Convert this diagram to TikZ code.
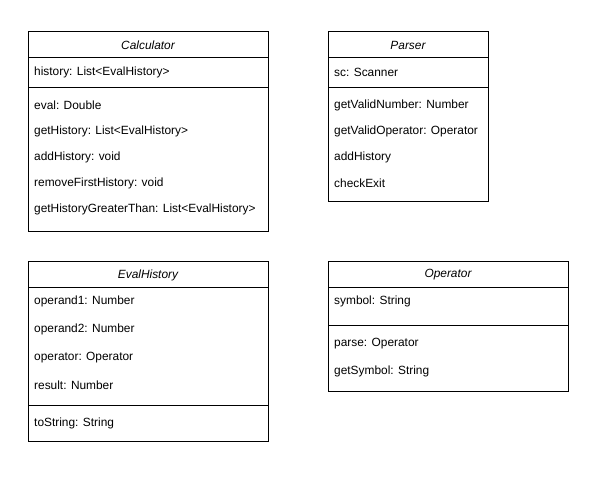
\documentclass[tikz,border=0pt]{standalone}
\usepackage{fontspec}
\setmainfont{Liberation Sans}
\begin{document}
\begin{tikzpicture}[x=1pt,y=-1pt,
  classbox/.style={draw=black,line width=0.8pt,anchor=north west,inner sep=0pt},
  title/.style={font=\fontsize{11.9}{14}\selectfont\itshape,inner sep=0pt},
  member/.style={font=\fontsize{11.9}{14}\selectfont,anchor=west,inner sep=0pt},
  divider/.style={line width=0.8pt}]
\useasboundingbox[fill=white] (0,0) rectangle (611,502);

% Calculator
\node[classbox,minimum width=240pt,minimum height=200pt] (calc) at (28,31) {};
\node[title] (calct) at (148,45) {Calculator};
\draw[divider] ([yshift=-26pt]calc.north west) -- ([yshift=-26pt]calc.north east);
\draw[divider] ([yshift=-56pt]calc.north west) -- ([yshift=-56pt]calc.north east);
\node[member] (c1) at (34,72) {history: List<EvalHistory>};
\node[member] (c2) at (34,105.5) {eval: Double};
\node[member] (c3) at (34,131.5) {getHistory: List<EvalHistory>};
\node[member] (c4) at (34,157.5) {addHistory: void};
\node[member] (c5) at (34,183.5) {removeFirstHistory: void};
\node[member] (c6) at (34,209.5) {getHistoryGreaterThan: List<EvalHistory>};

% Parser
\node[classbox,minimum width=160pt,minimum height=170pt] (pars) at (328,31) {};
\node[title] (parst) at (408,45) {Parser};
\draw[divider] ([yshift=-26pt]pars.north west) -- ([yshift=-26pt]pars.north east);
\draw[divider] ([yshift=-56pt]pars.north west) -- ([yshift=-56pt]pars.north east);
\node[member] (p1) at (334,72) {sc: Scanner};
\node[member] (p2) at (334,105.5) {getValidNumber: Number};
\node[member] (p3) at (334,131.5) {getValidOperator: Operator};
\node[member] (p4) at (334,157.5) {addHistory};
\node[member] (p5) at (334,183.5) {checkExit};

% EvalHistory
\node[classbox,minimum width=240pt,minimum height=180pt] (evh) at (28,261) {};
\node[title] (evht) at (148,275) {EvalHistory};
\draw[divider] ([yshift=-26pt]evh.north west) -- ([yshift=-26pt]evh.north east);
\draw[divider] ([yshift=-144pt]evh.north west) -- ([yshift=-144pt]evh.north east);
\node[member] (e1) at (34,301.5) {operand1: Number};
\node[member] (e2) at (34,329.5) {operand2: Number};
\node[member] (e3) at (34,357.5) {operator: Operator};
\node[member] (e4) at (34,385.5) {result: Number};
\node[member] (e5) at (34,423) {toString: String};

% Operator
\node[classbox,minimum width=240pt,minimum height=130pt] (oper) at (328,261) {};
\node[title] (opert) at (448,275) {Operator};
\draw[divider] ([yshift=-26pt]oper.north west) -- ([yshift=-26pt]oper.north east);
\draw[divider] ([yshift=-64pt]oper.north west) -- ([yshift=-64pt]oper.north east);
\node[member] (o1) at (334,301.5) {symbol: String};
\node[member] (o2) at (334,343.5) {parse: Operator};
\node[member] (o3) at (334,371.5) {getSymbol: String};
\end{tikzpicture}
\end{document}
